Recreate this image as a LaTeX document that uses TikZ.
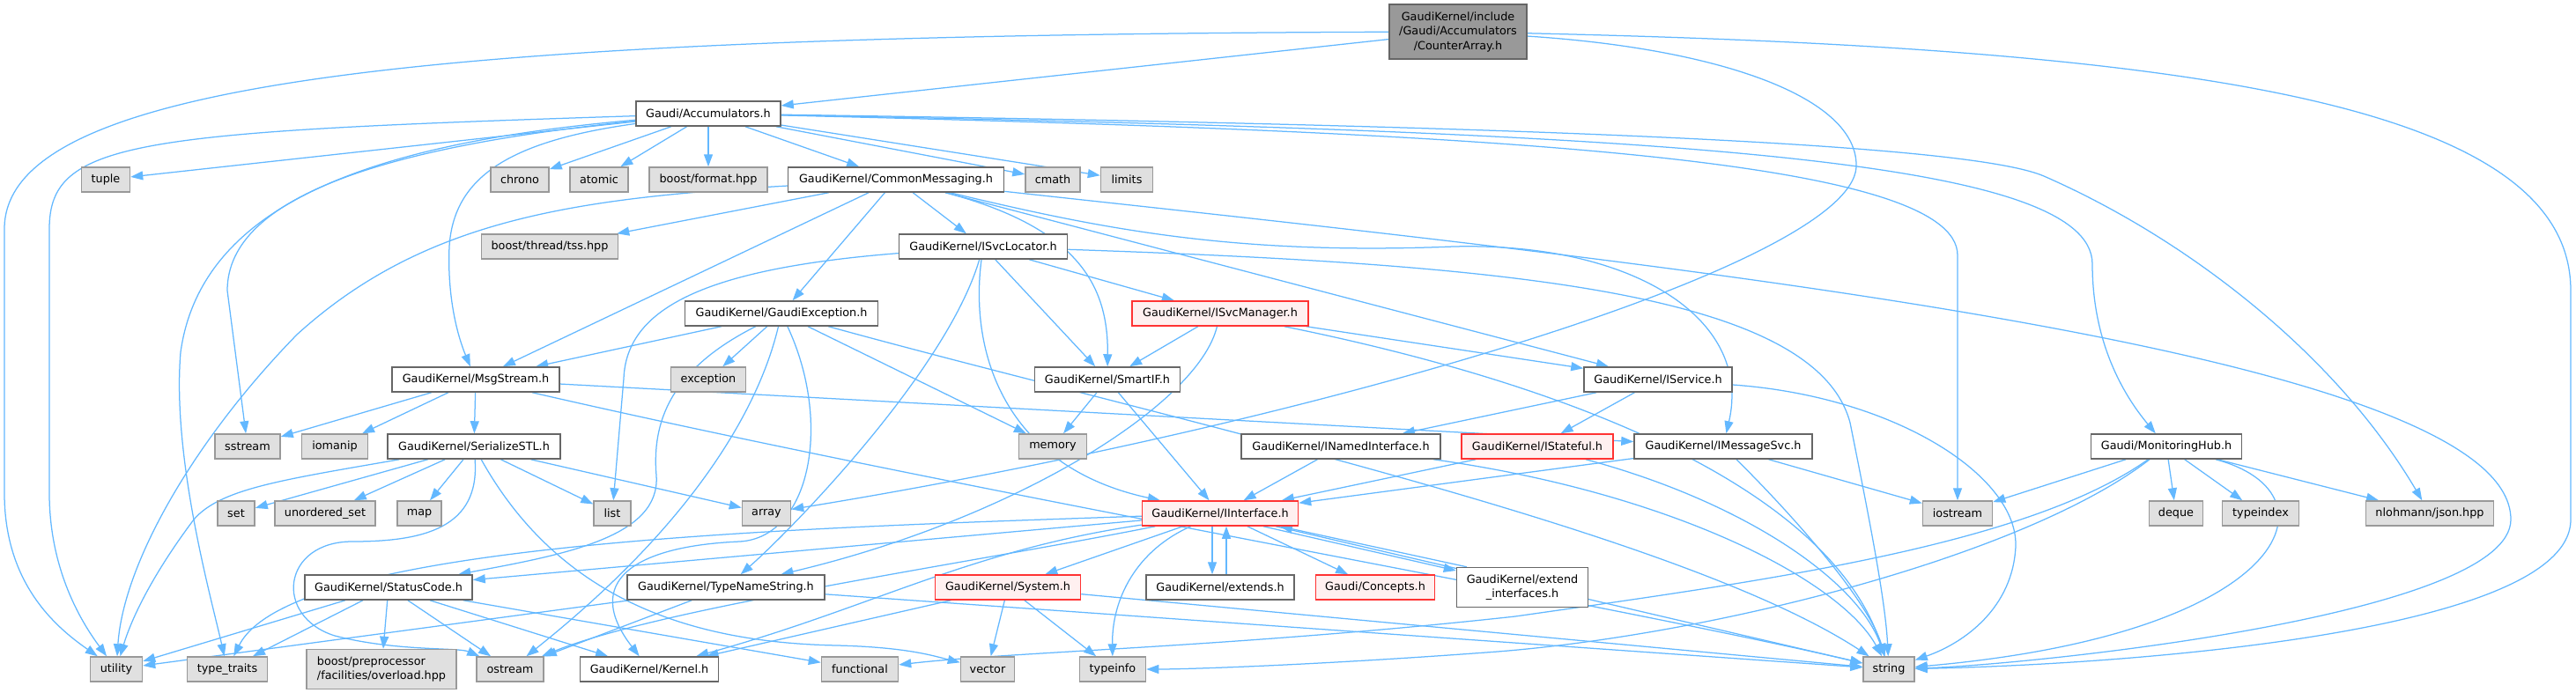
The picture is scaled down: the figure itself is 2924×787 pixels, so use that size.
\documentclass[tikz,border=0pt]{standalone}
\usepackage{fontspec}
\setmainfont{DejaVu Sans}
\usepackage{xcolor}
\usepackage{tikz}
\usetikzlibrary{arrows.meta,backgrounds}
\definecolor{CEdge}{HTML}{63B8FF}
\definecolor{CFrame}{HTML}{666666}
\definecolor{CExtFrame}{HTML}{999999}
\definecolor{CExtFill}{HTML}{E0E0E0}
\definecolor{CRootFill}{HTML}{999999}
\definecolor{CCut}{HTML}{FF3333}
\definecolor{CCutFill}{HTML}{FFF0F0}
\tikzset{
  hdrbox/.style={draw=CFrame, fill=white, line width=1.5pt, minimum height=28pt,
    inner xsep=0pt, inner ysep=2pt, font=\fontsize{12.8}{16.5}\selectfont, align=center},
  sysbox/.style={hdrbox, draw=CExtFrame, fill=CExtFill},
  cutbox/.style={hdrbox, draw=CCut, fill=CCutFill},
  rootbox/.style={hdrbox, fill=CRootFill},
  dep/.style={draw=CEdge, line width=1.25pt, -{Triangle[length=14pt,width=10pt]}},
}

\begin{document}
\begin{tikzpicture}[x=1pt, y=-1pt]
  \useasboundingbox (0,0) rectangle (2924,787);
  % header boxes, one row after the other
  \foreach \nm/\cx/\cy/\bw/\kind/\txt in {%
    acc/804/129/164/hdrbox/{Gaudi/Accumulators.h},
    tuple/120/204/55/sysbox/tuple, chrono/590/204/66/sysbox/chrono,
    atomic/680/204/66/sysbox/atomic, bfmt/804/204/134/sysbox/{boost/format.hpp},
    cmsg/1017/204/245/hdrbox/{GaudiKernel/CommonMessaging.h},
    cmath/1195/204/62/sysbox/cmath, limits/1279/204/59/sysbox/limits,
    tss/624/280/155/sysbox/{boost/thread/tss.hpp},
    svcloc/1116/280/191/hdrbox/{GaudiKernel/ISvcLocator.h},
    gexc/887/356/219/hdrbox/{GaudiKernel/GaudiException.h},
    svcmgr/1385/356/200/cutbox/{GaudiKernel/ISvcManager.h},
    msgs/540/431/190/hdrbox/{GaudiKernel/MsgStream.h},
    exc/804/431/85/sysbox/exception,
    smartif/1257/431/165/hdrbox/{GaudiKernel/SmartIF.h},
    isvc/1882/431/168/hdrbox/{GaudiKernel/IService.h},
    sstream/281/507/74/sysbox/sstream, iomanip/380/507/75/sysbox/iomanip,
    sstl/538/507/196/hdrbox/{GaudiKernel/SerializeSTL.h},
    memory/1195/507/77/sysbox/memory,
    inamed/1522/507/226/hdrbox/{GaudiKernel/INamedInterface.h},
    istate/1745/507/172/cutbox/{GaudiKernel/IStateful.h},
    imsg/1956/507/202/hdrbox/{GaudiKernel/IMessageSvc.h},
    monhub/2459/507/171/hdrbox/{Gaudi/MonitoringHub.h},
    set/268/583/42/sysbox/set, uset/369/583/114/sysbox/{unordered\_set},
    map/476/583/50/sysbox/map, list/695/583/42/sysbox/list,
    array/870/583/55/sysbox/array,
    iintf/1385/583/177/cutbox/{GaudiKernel/IInterface.h},
    iostream/2222/583/79/sysbox/iostream, deque/2470/583/61/sysbox/deque,
    typeindex/2566/583/87/sysbox/typeindex,
    json/2758/583/145/sysbox/{nlohmann/json.hpp},
    sc/441/667/190/hdrbox/{GaudiKernel/StatusCode.h},
    tns/824/667/224/hdrbox/{GaudiKernel/TypeNameString.h},
    system/1144/667/165/cutbox/{GaudiKernel/System.h},
    extends/1385/667/168/hdrbox/{GaudiKernel/extends.h},
    concepts/1561/667/135/cutbox/{Gaudi/Concepts.h},
    utility/132/760/59/sysbox/utility, ttraits/258/760/91/sysbox/{type\_traits},
    ostream/579/760/76/sysbox/ostream,
    kernel/737/760/157/hdrbox/{GaudiKernel/Kernel.h},
    functional/976/760/87/sysbox/functional, vector/1121/760/61/sysbox/vector,
    typeinfo/1263/760/75/sysbox/typeinfo, string/2144/760/58/sysbox/string}{
    \node[\kind, minimum width=\bw] (\nm) at (\cx,\cy) {\txt};
  }
  \node[rootbox, minimum width=156, minimum height=62] (root) at (1655,36)
    {GaudiKernel/include\\/Gaudi/Accumulators\\/CounterArray.h};
  \node[hdrbox, minimum width=149, minimum height=45] (extif) at (1728,667)
    {GaudiKernel/extend\\\_interfaces.h};
  \node[sysbox, minimum width=170, minimum height=45, align=left] (bpp) at (433,760)
    {boost/preprocessor\\/facilities/overload.hpp};

  \begin{scope}[on background layer]
  \fill[white] (0,0) rectangle (2924,787);
  % straight includes
  \foreach \a/\b in {root/acc, acc/tuple, acc/chrono, acc/atomic, acc/bfmt, acc/cmsg,
    acc/cmath, acc/limits, cmsg/tss, cmsg/msgs, cmsg/gexc, cmsg/svcloc, cmsg/isvc,
    svcloc/smartif, svcloc/svcmgr, gexc/msgs, gexc/exc, gexc/memory, svcmgr/smartif,
    svcmgr/isvc, msgs/sstream, msgs/iomanip, msgs/sstl, msgs/imsg, sstl/set, sstl/uset,
    sstl/map, sstl/list, sstl/array, sc/utility, sc/ttraits, sc/bpp, sc/ostream,
    sc/kernel, sc/functional, tns/utility, tns/ostream, tns/string, smartif/memory,
    smartif/iintf, isvc/inamed, isvc/istate, inamed/iintf, istate/iintf, imsg/iintf,
    imsg/iostream, iintf/sc, iintf/system, iintf/concepts, iintf/string, system/kernel,
    system/vector, system/typeinfo, system/string, monhub/iostream, monhub/deque,
    monhub/typeindex, monhub/json}{
    \draw[dep] (\a) -- (\b);
  }

  % back and forth with IInterface
  \draw[dep] ([xshift=-9pt]iintf.south) -- ([xshift=-9pt]extends.north);
  \draw[dep] ([xshift=7pt]extends.north) -- ([xshift=7pt]iintf.south);
  \draw[dep] ([xshift=49pt]iintf.south) -- ([yshift=19pt]extif.west);
  \draw[dep] ([xshift=12pt]extif.north west) -- ([xshift=68pt]iintf.south);

  % long curved includes
  \draw[dep] (root) .. controls (500,40) and (5,90) .. (5,260) -- (5,560)
    .. controls (5,660) and (60,710) .. (utility);
  \draw[dep] (root) .. controls (1950,55) and (2110,110) .. (2107,190)
    .. controls (2100,300) and (1500,480) .. (array);
  \draw[dep] (root) .. controls (2500,55) and (2918,120) .. (2918,330) -- (2918,590)
    .. controls (2918,720) and (2400,755) .. (string);

  \draw[dep] (acc) .. controls (150,150) and (56,160) .. (56,260) -- (56,560)
    .. controls (56,650) and (95,710) .. (utility);
  \draw[dep] (acc) .. controls (450,160) and (230,220) .. (205,400)
    .. controls (195,520) and (240,680) .. (ttraits);
  \draw[dep] (acc) .. controls (450,165) and (258,220) .. (258,330) -- (sstream);
  \draw[dep] (acc) .. controls (580,160) and (515,200) .. (510,280)
    .. controls (507,350) and (525,395) .. (msgs);
  \draw[dep] (acc) .. controls (1700,150) and (2222,180) .. (2222,290) -- (iostream);
  \draw[dep] (acc) .. controls (1900,150) and (2375,180) .. (2375,300)
    .. controls (2375,400) and (2420,460) .. (monhub);
  \draw[dep] (acc) .. controls (1900,145) and (2250,170) .. (2320,200)
    .. controls (2480,270) and (2650,400) .. (json);

  \draw[dep] (cmsg) .. controls (650,225) and (480,250) .. (337,380)
    .. controls (220,500) and (140,640) .. (utility);
  \draw[dep] (cmsg) .. controls (1230,260) and (1258,330) .. (smartif);
  \draw[dep] (cmsg) .. controls (1250,260) and (1400,290) .. (1650,280)
    .. controls (1850,275) and (1990,360) .. (imsg);
  \draw[dep] (cmsg) .. controls (1900,300) and (2850,400) .. (2850,590)
    .. controls (2850,700) and (2300,755) .. (string);

  \draw[dep] (svcloc) .. controls (800,305) and (711,350) .. (708,430) -- (list);
  \draw[dep] (svcloc) .. controls (1100,400) and (1140,530) .. (iintf);
  \draw[dep] (svcloc) .. controls (1075,420) and (900,600) .. (tns);
  \draw[dep] (svcloc) .. controls (1700,300) and (2060,330) .. (2100,480)
    .. controls (2120,580) and (2140,680) .. (string);

  \draw[dep] (gexc) .. controls (760,420) and (740,480) .. (745,540)
    .. controls (750,610) and (640,630) .. (sc);
  \draw[dep] (gexc) .. controls (860,470) and (780,600) .. (ostream);
  \draw[dep] (gexc) .. controls (945,480) and (920,610) .. (840,615)
    .. controls (720,620) and (660,660) .. (kernel);
  \draw[dep] (gexc) .. controls (1300,470) and (1900,600) .. (string);

  \draw[dep] (svcmgr) .. controls (1360,460) and (1150,590) .. (tns);
  \draw[dep] (svcmgr) .. controls (1800,440) and (2080,560) .. (string);
  \draw[dep] (msgs) .. controls (1100,560) and (1800,680) .. (string);

  \draw[dep] (sstl) .. controls (320,545) and (250,555) .. (220,590)
    .. controls (175,650) and (150,700) .. (utility);
  \draw[dep] (sstl) .. controls (545,600) and (480,615) .. (400,615)
    .. controls (320,615) and (310,700) .. (380,722)
    .. controls (450,740) and (520,735) .. (ostream);
  \draw[dep] (sstl) .. controls (640,690) and (800,730) .. (950,733)
    .. controls (1030,735) and (1060,745) .. (vector);

  \draw[dep] (isvc) .. controls (2150,450) and (2290,540) .. (2288,620)
    .. controls (2285,690) and (2230,730) .. (string);
  \draw[dep] (inamed) .. controls (1900,560) and (2090,660) .. (string);
  \draw[dep] (istate) .. controls (1980,570) and (2110,660) .. (string);
  \draw[dep] (imsg) .. controls (2030,580) and (2120,680) .. (string);

  \draw[dep] (iintf) .. controls (900,600) and (330,615) .. (ttraits);
  \draw[dep] (iintf) .. controls (1100,640) and (750,690) .. (ostream);
  \draw[dep] (iintf) .. controls (1100,625) and (990,690) .. (kernel);
  \draw[dep] (iintf) .. controls (1290,625) and (1262,680) .. (typeinfo);

  \draw[dep] (monhub) .. controls (2660,560) and (2600,720) .. (string);
  \draw[dep] (monhub) .. controls (2300,620) and (2000,660) .. (1720,700)
    .. controls (1400,735) and (1150,740) .. (functional);
  \draw[dep] (monhub) .. controls (2300,630) and (1950,720) .. (1700,740)
    .. controls (1500,755) and (1350,760) .. (typeinfo);
  \end{scope}
\end{tikzpicture}
\end{document}
